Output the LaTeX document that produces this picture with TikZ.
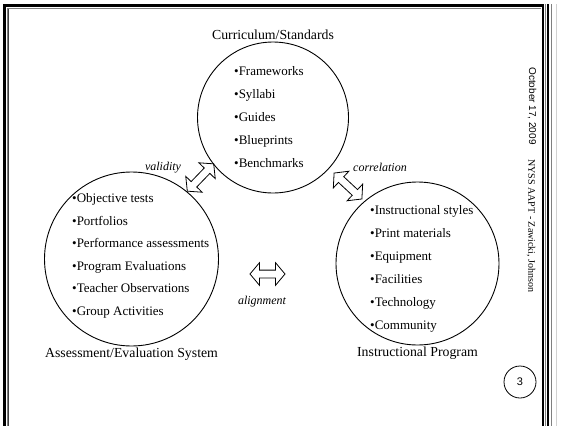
\documentclass[tikz,border=0pt]{standalone}
\usepackage{fontspec}
\setmainfont{Liberation Serif}
\newfontfamily\arialfont{Liberation Sans}
\usetikzlibrary{positioning, shapes.arrows}

\begin{document}
\begin{tikzpicture}[
    x=1pt, y=-1pt,
    topic/.style={circle, draw, line width=0.9pt, inner sep=0pt},
    entry/.style={anchor=base west, inner sep=0pt, font=\fontsize{13}{15}\selectfont},
    title/.style={inner sep=1pt, font=\fontsize{13.8}{16}\selectfont},
    link/.style={double arrow, draw, line width=0.8pt, inner sep=3.5pt, minimum height=38pt,
        double arrow head extend=7.5pt, double arrow tip angle=100},
    tag/.style={inner sep=0pt, font=\itshape\fontsize{12}{14}\selectfont},
    sidenote/.style={rotate=-90, inner sep=0pt, font=\fontsize{10}{12}\selectfont}
]
    \useasboundingbox (0,0) rectangle (563,426);

    % slide frame
    \draw[line width=3pt] (4.5,426) -- (4.5,5.5) -- (544,5.5);
    \draw[gray, line width=1pt] (7.5,426) -- (7.5,8) -- (541,8);
    \draw[darkgray, line width=0.8pt] (8.8,426) -- (8.8,9);
    \draw[line width=2.5pt] (543,4) -- (543,426);
    \draw[gray, line width=0.8pt] (545.5,4) -- (545.5,426);
    \draw[line width=1.2pt] (548,4) -- (548,426);
    \draw[gray, line width=1pt] (551.5,4) -- (551.5,426);
    \draw[gray!35, line width=1pt] (556.5,4) -- (556.5,426);

    % the three circles
    \node[topic, minimum size=151pt] (curr) at (273,117.5) {};
    \node[topic, minimum size=174pt] (assess) at (131.5,259) {};
    \node[topic, minimum size=163pt] (instr) at (417.5,263.5) {};

    \node[title, above=1pt of curr] (curr-title) {Curriculum/Standards};
    \node[title, below=0pt of assess] (assess-title) {Assessment/Evaluation System};
    \node[title, below=0pt of instr] (instr-title) {Instructional Program};

    % bullet lists
    \foreach \txt [count=\i from 0] in {Frameworks,Syllabi,Guides,Blueprints,Benchmarks}
        \node[entry] (curr-\i) at (234,75.5+23*\i) {•\txt};
    \foreach \txt [count=\i from 0] in {Objective tests,Portfolios,Performance assessments,
            Program Evaluations,Teacher Observations,Group Activities}
        \node[entry] (assess-\i) at (72,202.5+22.6*\i) {•\txt};
    \foreach \txt [count=\i from 0] in {Instructional styles,Print materials,Equipment,
            Facilities,Technology,Community}
        \node[entry] (instr-\i) at (370,214.5+23*\i) {•\txt};

    % links between circles
    \node[link, rotate=46] (validity) at (200.5,177.5) {};
    \node[link, rotate=-43] (correlation) at (348,186) {};
    \node[link, minimum height=35pt] (alignment) at (267.5,274) {};

    \node[tag] (validity-tag) at (163,168) {validity};
    \node[tag] (correlation-tag) at (380,167) {correlation};
    \node[tag] (alignment-tag) at (262,302) {alignment};

    % side notes and page number
    \node[sidenote, font=\arialfont\fontsize{10}{12}\selectfont] (date) at (532,106) {October 17, 2009};
    \node[sidenote] (venue) at (531,226) {NYSS AAPT - Zawicki, Johnson};
    \node[circle, draw, line width=0.8pt, minimum size=32pt, inner sep=0pt,
        font=\arialfont\fontsize{11}{13}\selectfont] (page) at (520,382) {3};
\end{tikzpicture}
\end{document}
